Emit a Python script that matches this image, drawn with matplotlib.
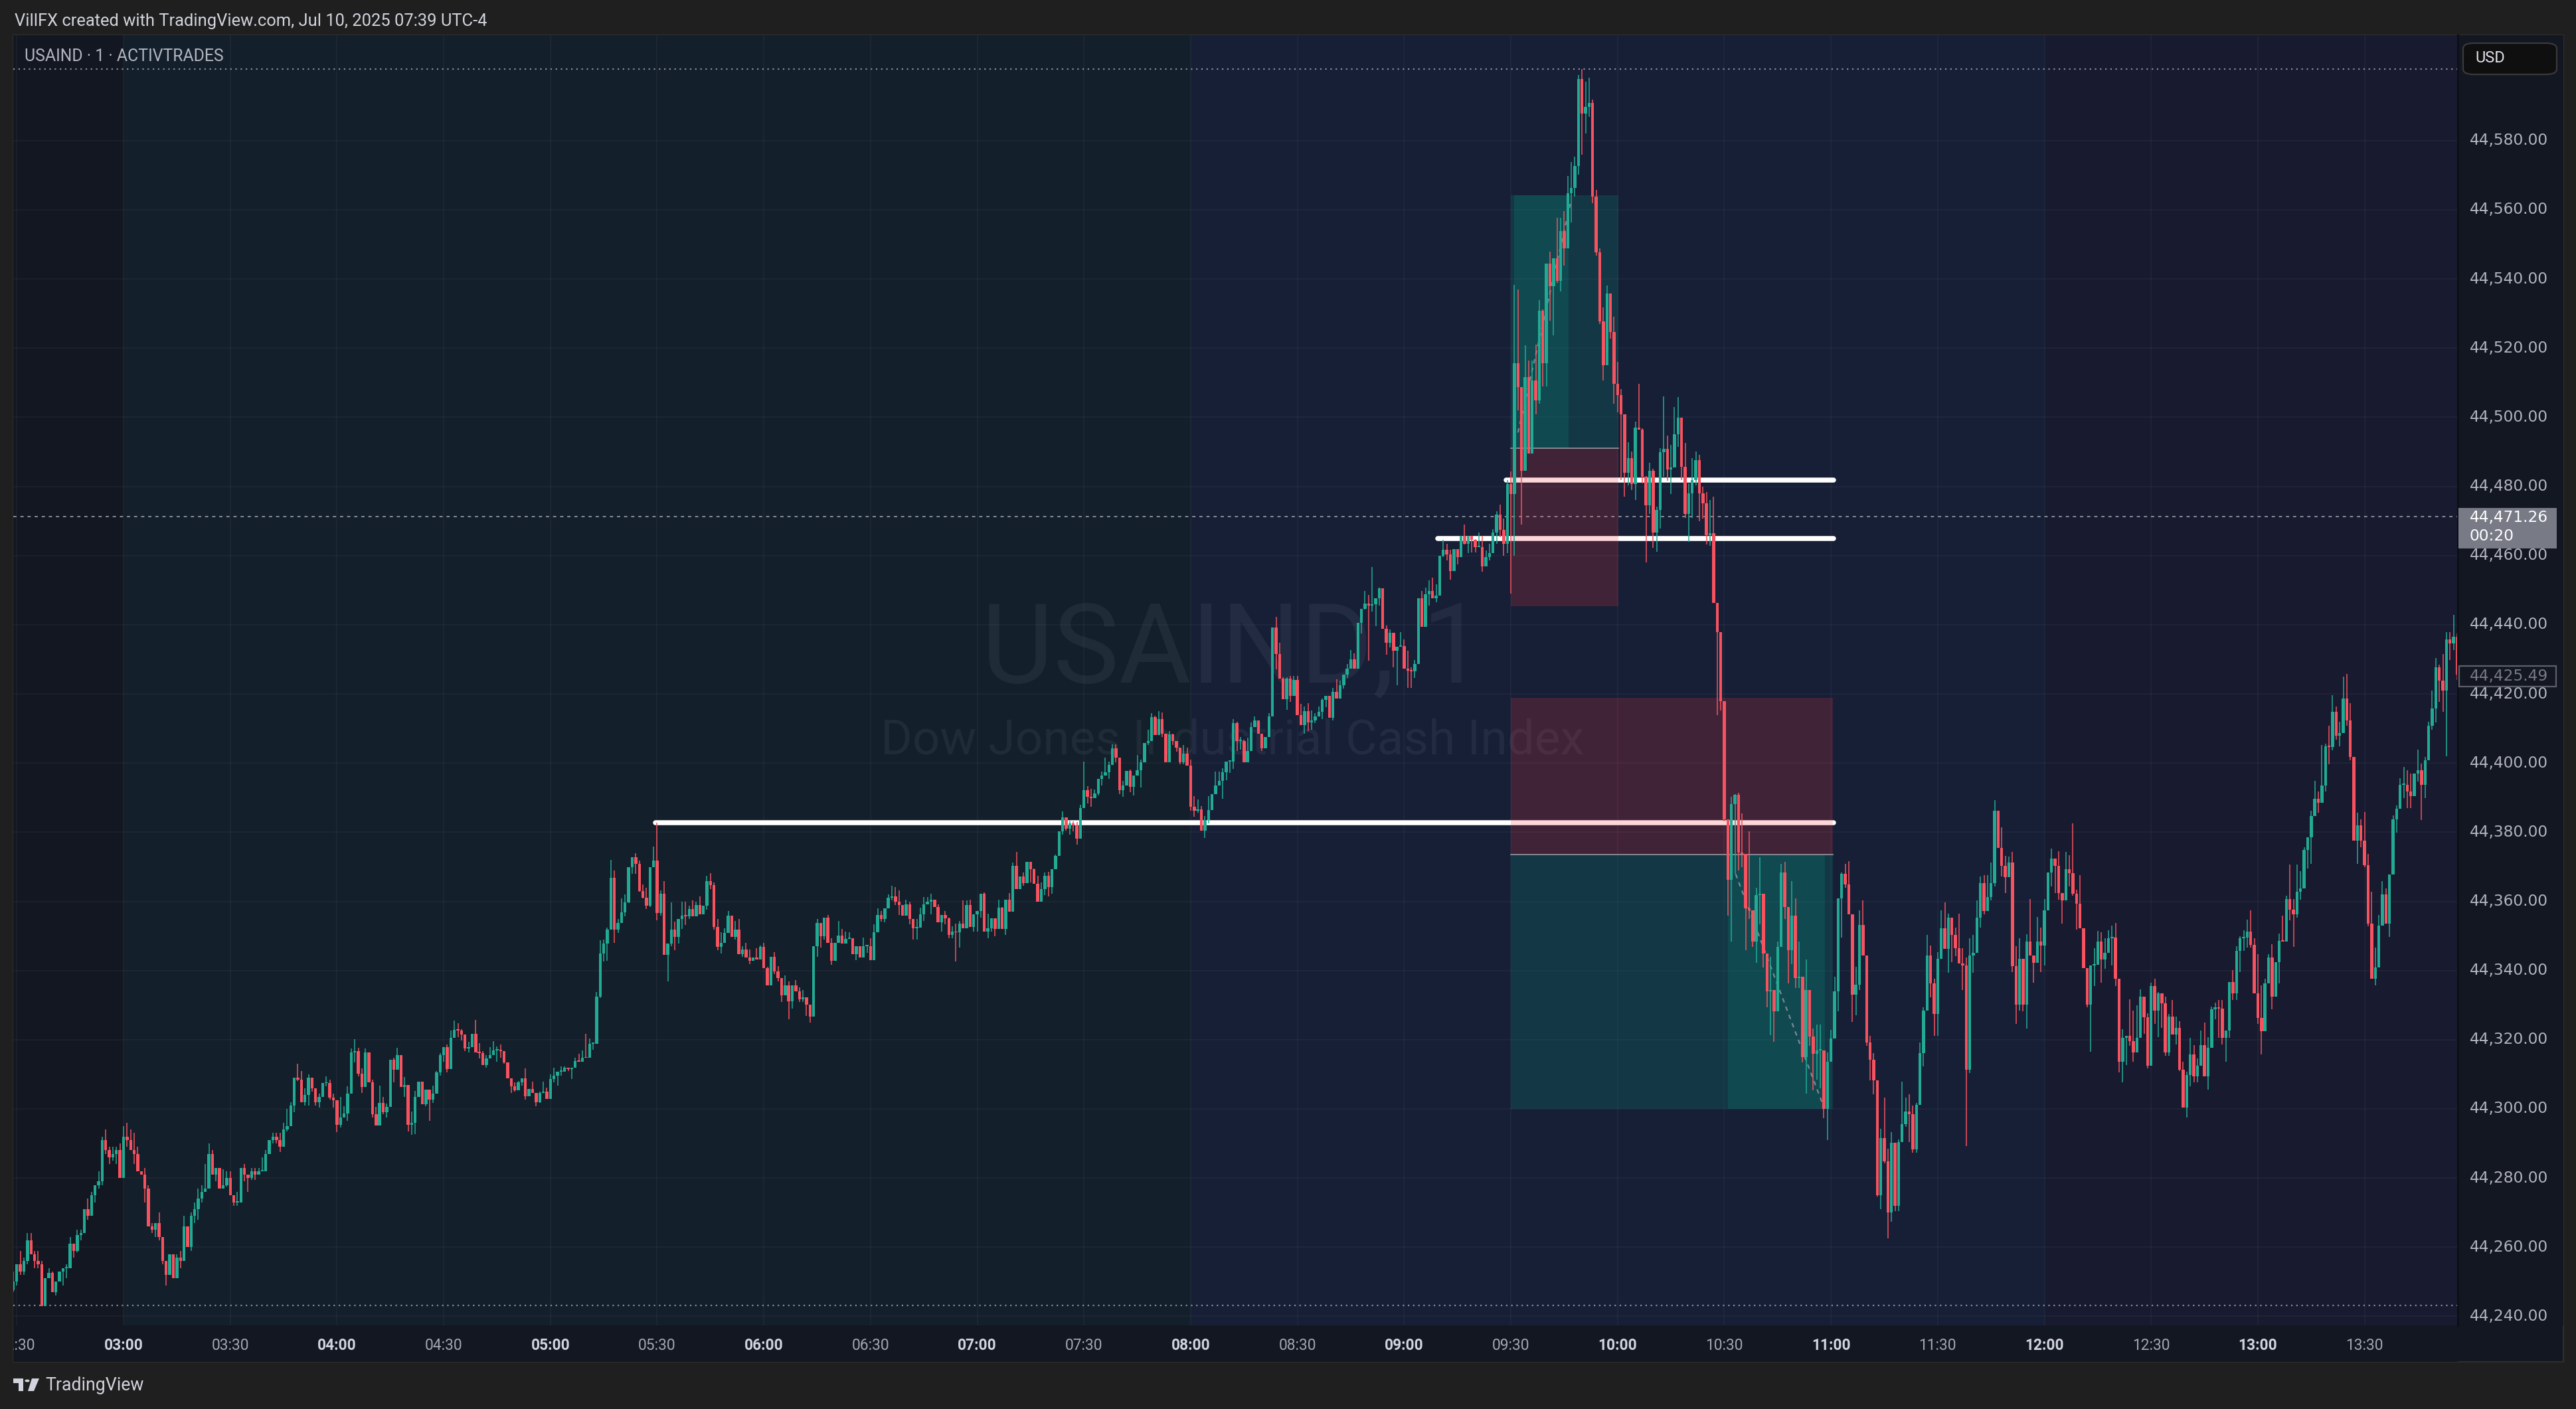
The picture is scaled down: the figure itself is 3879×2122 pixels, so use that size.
import numpy as np
import matplotlib
matplotlib.use("Agg")
import matplotlib.pyplot as plt
from matplotlib.patches import Rectangle, FancyBboxPatch, Polygon, Circle
from matplotlib.lines import Line2D

# USAIND 1-minute candles, x = minutes after 03:00
first_minute = -31
first_open = 44247.5

closes = [
    # 02:29 - 03:54
    44250, 44255, 44253, 44256, 44262, 44258, 44256, 44255, 44243, 44251,
    44252.5, 44247, 44250, 44253, 44254, 44254, 44261, 44259, 44263.5, 44264,
    44271, 44269, 44275, 44278, 44279, 44291, 44288, 44286, 44287, 44288,
    44280, 44292, 44291, 44288, 44287, 44282, 44281, 44277, 44266, 44265,
    44267, 44263, 44256, 44252, 44258, 44251, 44257, 44256, 44266, 44260,
    44269, 44271, 44274, 44276, 44277, 44287, 44281, 44283, 44277, 44278,
    44280, 44275, 44273, 44273, 44283, 44281, 44280, 44282, 44281, 44282,
    44282, 44287, 44291, 44292, 44291, 44289, 44294, 44295, 44301, 44309,
    44308.5, 44302, 44304, 44309, 44306, 44302,
    # 03:55 - 05:20
    44303.5, 44307.4, 44307.4, 44303.2, 44302.4, 44295.4, 44297.5, 44298.7, 44304.4, 44316.4,
    44316.8, 44310.1, 44306.3, 44316.4, 44307.6, 44298.5, 44295.2, 44301.7, 44299.1, 44300.6,
    44314.2, 44311.4, 44315.5, 44306.3, 44307, 44295.4, 44296, 44303.5, 44307.9, 44301.3,
    44305.6, 44302.6, 44304.5, 44310.5, 44315.5, 44317.9, 44311.6, 44320.6, 44322.9, 44322.6,
    44321.5, 44317.5, 44317.9, 44321.7, 44316.4, 44316.2, 44312.6, 44314.5, 44315.6, 44316.9,
    44316.9, 44316.8, 44313.4, 44308.9, 44306.6, 44305.4, 44307.6, 44308.8, 44303.7, 44305.7,
    44304.6, 44302, 44304.6, 44305, 44302.8, 44308.7, 44309.6, 44310.7, 44310.7, 44311.9,
    44311.6, 44312, 44313.8, 44313.7, 44314.8, 44314.7, 44318.8, 44318.8, 44332.5, 44345,
    44347.8, 44351.8, 44366.8, 44351.8, 44353.7, 44356.8,
    # 05:21 - 06:46
    44359.7, 44369.8, 44372.8, 44370.9, 44362.9, 44361.1, 44358.8, 44369.9, 44371.8, 44356.6,
    44362.2, 44344.6, 44347.8, 44351.8, 44349.8, 44354.9, 44355.8, 44355.7, 44357.8, 44355.7,
    44359, 44356.3, 44358.8, 44365.9, 44364.8, 44352.7, 44346.9, 44348, 44350.9, 44355.9,
    44349.8, 44351.8, 44344.8, 44346.1, 44343.8, 44342.9, 44343.8, 44343.2, 44346.9, 44340.8,
    44335.7, 44344, 44339.8, 44337.9, 44332.8, 44335.8, 44331.2, 44335.8, 44333.9, 44331.7,
    44332.3, 44330.1, 44326.7, 44347, 44353.8, 44349.9, 44355.3, 44348, 44342.9, 44348,
    44350.1, 44347.9, 44349.2, 44349.3, 44344.8, 44347, 44343.8, 44347, 44347, 44343.1,
    44351.1, 44356, 44354.9, 44357.9, 44361, 44361.5, 44360, 44359, 44355.9, 44359.1,
    44355, 44352.2, 44352.4, 44356.2, 44359.1, 44360,
    # 06:47 - 08:12
    44360.5, 44358.3, 44354, 44356, 44355.1, 44350.4, 44351.2, 44351, 44353.5, 44352.2,
    44359, 44352.7, 44356.2, 44357.2, 44362.2, 44351.2, 44352.2, 44355.2, 44352, 44358.1,
    44352, 44360.5, 44357.1, 44370.3, 44363.6, 44367.2, 44365.2, 44371.4, 44369.3, 44365,
    44360, 44363.6, 44367.4, 44364.2, 44369.3, 44373.2, 44380.3, 44384.3, 44381.1, 44382.6,
    44381.9, 44378.2, 44386.9, 44392.2, 44390.3, 44389.8, 44391.2, 44395.5, 44396.4, 44397.3,
    44399.4, 44404.2, 44401.5, 44392.1, 44393.5, 44397.8, 44393.2, 44396.4, 44398, 44400.2,
    44405.8, 44406.4, 44413.3, 44408.2, 44412.8, 44408.5, 44400.3, 44408.3, 44406.4, 44404.5,
    44400.3, 44402.8, 44399.2, 44387.3, 44386.3, 44386.6, 44380.5, 44383.5, 44386.4, 44391,
    44393.5, 44394.8, 44397.3, 44400.4, 44400.4, 44411.5,
    # 08:13 - 09:30
    44406.4, 44406.4, 44400.3, 44403.5, 44410.4, 44412.3, 44408.4, 44404.2, 44407.6, 44413.5,
    44439.3, 44431.6, 44424.5, 44418.4, 44424.5, 44419.4, 44424, 44413.8, 44411, 44415,
    44411.7, 44412.3, 44413.5, 44414.9, 44418.3, 44419.4, 44413.1, 44420.6, 44418.6, 44422.5,
    44425.5, 44427.4, 44430, 44427.4, 44440.6, 44444.5, 44446.1, 44445.6, 44446, 44447.6,
    44450.5, 44438.8, 44434.8, 44437.6, 44432.4, 44433.7, 44433.9, 44427.3, 44426.8, 44426.6,
    44428.6, 44447.6, 44439.4, 44448.9, 44449.7, 44447.6, 44448.5, 44460, 44461.6, 44460.4,
    44455.6, 44461.8, 44459.6, 44465.8, 44463.5, 44465.7, 44464.6, 44462.5, 44462.5, 44456.8,
    44459.6, 44460.7, 44466.6, 44471.9, 44467.5, 44463.5, 44480.7, 44477.8,
    # 09:31 - 10:29
    44515.6, 44508.8, 44484.6, 44511.6, 44489.5, 44510.7, 44504.8, 44530.8, 44515.6, 44544.5,
    44537.9, 44545.9, 44539.5, 44553.8, 44548.8, 44564.8, 44566.3, 44572.6, 44597.9, 44587.8,
    44589.7, 44590.9, 44563.9, 44547.7, 44527.7, 44515, 44535.8, 44524.7, 44509.7, 44506.4,
    44500.8, 44484, 44488.1, 44480.7, 44497.1, 44496.5, 44482.8, 44474.5, 44484.6, 44466.6,
    44473.2, 44489.9, 44490.8, 44484.9, 44485.5, 44495, 44499.9, 44485.6, 44472, 44478.1,
    44481.9, 44487.7, 44478.1, 44475.1, 44466, 44466.5, 44446.3, 44437.8, 44417.9,
    # 10:30 - 11:03
    44383.8, 44366.3, 44388.2, 44390.8, 44374.2, 44373.8, 44357.9, 44357.5, 44348.3, 44361.9,
    44362.3, 44344.9, 44333.9, 44334.3, 44328.3, 44346.9, 44368.3, 44358.3, 44345.9, 44355.9,
    44337.9, 44338.3, 44314.9, 44334.3, 44320.9, 44315.9, 44316.9, 44316.9, 44300, 44313.6,
    44320.3, 44333.9, 44360.9, 44367.9,
    # 11:04 - 12:30
    44364.9, 44356.2, 44333.1, 44336, 44353.2, 44344.3, 44319.2, 44314.2, 44308.3, 44275.1,
    44291.5, 44284.8, 44270.1, 44290.2, 44272, 44290.4, 44295.5, 44299.2, 44298.5, 44288.2,
    44301.1, 44316.1, 44328.5, 44344.4, 44336.2, 44327.4, 44343.4, 44352.3, 44346.2, 44355.3,
    44350.3, 44346.5, 44342.1, 44341.5, 44311.3, 44344.3, 44345.2, 44355.3, 44365.3, 44357.2,
    44361.3, 44365.3, 44386.2, 44375.5, 44370.3, 44367.1, 44371.2, 44341.2, 44330.2, 44343.4,
    44330.2, 44348.4, 44344.3, 44342.2, 44348.4, 44347.2, 44357.4, 44368.4, 44372.4, 44370.2,
    44362.5, 44360.2, 44369.4, 44368.2, 44362.2, 44359.3, 44352.3, 44340.8, 44330.2, 44341.5,
    44341.7, 44348.4, 44343.3, 44345.2, 44349.4, 44349.6, 44337.7, 44313.6, 44320.5, 44321.2,
    44319.6, 44316.4, 44320.6, 44332.4, 44326.5, 44312.4, 44335.5,
    # 12:31 - 13:56
    44328.5, 44333.4, 44330.5, 44316.3, 44326.6, 44321.5, 44323.4, 44311.4, 44300.4, 44309.7,
    44315.8, 44309.4, 44312.4, 44318.5, 44309.4, 44317.6, 44328.8, 44329.3, 44329, 44320.5,
    44322.7, 44336.7, 44333.4, 44345.7, 44349.4, 44349.6, 44351.3, 44347.4, 44333.4, 44326.4,
    44322.5, 44336.2, 44343.7, 44332.4, 44342.5, 44348.6, 44348.4, 44360.7, 44357.7, 44356.3,
    44362.8, 44363.8, 44374.9, 44378.6, 44384.7, 44389.6, 44388.6, 44393.5, 44404.8, 44404.6,
    44414.9, 44407.9, 44408.7, 44418.7, 44412.4, 44401.8, 44377.6, 44381.9, 44377.6, 44370.5,
    44353.6, 44337.6, 44340.9, 44353, 44362, 44353.6, 44367.8, 44383.7, 44386.8, 44393.7,
    44393.7, 44391.7, 44390.5, 44396.9, 44397.9, 44393.7, 44400.8, 44410.8, 44415.8, 44427.6,
    44423.9, 44420.9, 44435.8, 44434.6, 44436.6, 44425.5,
]

highs = [
    44253, 44255, 44259, 44257, 44264, 44264, 44259, 44259, 44256, 44251,
    44254, 44253, 44250, 44253, 44254, 44255, 44263, 44261, 44265, 44265,
    44271, 44274, 44276, 44278, 44282, 44292, 44294, 44289, 44289, 44289,
    44290, 44295, 44296, 44294, 44293, 44289, 44282, 44283, 44278, 44267,
    44267, 44270, 44263, 44256, 44258, 44258, 44258, 44259, 44269, 44266,
    44270, 44273, 44277, 44278, 44284, 44290, 44288, 44283, 44283, 44282.5,
    44282, 44282, 44275, 44276, 44283, 44284, 44280, 44283, 44283, 44283,
    44286, 44288, 44291, 44293, 44293, 44293, 44296, 44300, 44302, 44309,
    44313, 44311, 44306, 44310, 44309, 44306,
    44304.4, 44307.4, 44309.5, 44308.4, 44304.5, 44302.4, 44303.5, 44300.7, 44306.6, 44317.5,
    44320.1, 44317.6, 44311.8, 44317.5, 44316.4, 44308.5, 44300.6, 44306.7, 44303.5, 44301.5,
    44314.2, 44314.8, 44317.6, 44315.5, 44309.2, 44307, 44299.3, 44305.1, 44307.9, 44307.9,
    44305.6, 44305.6, 44306.7, 44310.9, 44316.2, 44317.9, 44318.6, 44322.6, 44325.5, 44324.8,
    44323, 44321.5, 44319.4, 44321.7, 44325.7, 44319, 44316.8, 44315.5, 44317.9, 44319.5,
    44318, 44318.6, 44316.8, 44313.4, 44308.9, 44307.7, 44308.1, 44308.8, 44311.7, 44305.7,
    44307.9, 44304.6, 44304.9, 44307.9, 44306.1, 44310, 44311.9, 44310.7, 44312.2, 44312.3,
    44311.9, 44312, 44314.7, 44315.9, 44316.9, 44321.7, 44320.4, 44318.8, 44333.8, 44348.7,
    44348.9, 44352.4, 44372, 44369, 44354.9, 44360.8,
    44362.1, 44369.8, 44372.8, 44373.9, 44371.8, 44364.9, 44363.9, 44369.9, 44375.9, 44382.8,
    44363.2, 44365.9, 44347.8, 44359.7, 44354.1, 44354.9, 44360, 44360, 44358.8, 44360.2,
    44360, 44361.5, 44358.8, 44367.4, 44368.2, 44365.4, 44354.9, 44351.1, 44352.2, 44357.2,
    44355.9, 44354.3, 44354.9, 44347, 44348, 44346.1, 44343.8, 44346.4, 44347.2, 44348,
    44341.1, 44344, 44345.3, 44341.2, 44337.9, 44338.6, 44336.9, 44335.8, 44337.3, 44335.2,
    44334.4, 44332.3, 44330.1, 44347, 44354.9, 44353.8, 44355.3, 44356, 44349.3, 44348,
    44354.3, 44352, 44351.3, 44351.1, 44349.3, 44347, 44347, 44349.5, 44347.4, 44349.3,
    44353.4, 44357.9, 44357.2, 44357.9, 44362.1, 44364.5, 44364.2, 44363.2, 44359, 44360.5,
    44360, 44355, 44355, 44358.1, 44361.3, 44361.3,
    44362.2, 44359.5, 44359.2, 44356, 44357.2, 44355.3, 44352.8, 44353.5, 44354.3, 44360.2,
    44360.3, 44360.5, 44356.2, 44357.2, 44362.2, 44362.6, 44356.5, 44355.2, 44355.2, 44360.5,
    44358.3, 44360.5, 44362.4, 44371.2, 44374.3, 44367.2, 44368.4, 44371.5, 44371.4, 44369.5,
    44367.4, 44365.4, 44368.4, 44368.5, 44369.3, 44373.5, 44380.3, 44386, 44384.3, 44383.4,
    44383.1, 44383, 44387.9, 44400.4, 44393.3, 44392.5, 44392.4, 44395.5, 44397.6, 44401.5,
    44400.5, 44405.4, 44405.4, 44400.5, 44394.9, 44397.8, 44398.1, 44396.4, 44402.4, 44401,
    44405.8, 44409.6, 44414.4, 44413.6, 44415, 44414.6, 44408.5, 44409.3, 44408.5, 44406.4,
    44404.4, 44405.3, 44404.4, 44401, 44390.4, 44389.5, 44387.6, 44384.7, 44390.5, 44391,
    44397.5, 44397.5, 44398.5, 44400.4, 44400.4, 44412.7,
    44412, 44407.6, 44406.7, 44407.3, 44411.7, 44413.5, 44412.3, 44408.4, 44407.6, 44414.4,
    44439.3, 44442.2, 44434.8, 44424.8, 44424.8, 44425.2, 44425.2, 44425.2, 44417.2, 44416.3,
    44417.4, 44415.2, 44414.4, 44416.3, 44418.6, 44419.4, 44419.4, 44421.8, 44424.3, 44423.8,
    44425.5, 44428.6, 44432.6, 44431.7, 44440.6, 44444.5, 44449.7, 44448.6, 44456.7, 44447.6,
    44450.8, 44450.5, 44439.7, 44438.7, 44437.6, 44433.7, 44437.8, 44435.7, 44432.5, 44427.7,
    44429.8, 44447.6, 44449.7, 44450.8, 44452.9, 44453.6, 44451.7, 44460, 44464.6, 44463.5,
    44461.6, 44461.8, 44461.9, 44465.8, 44469, 44465.7, 44465.7, 44464.8, 44466.6, 44465.7,
    44461.4, 44463.5, 44467.6, 44472.8, 44474.8, 44470.8, 44481.9, 44484.3,
    44538.3, 44536.9, 44508.8, 44520.8, 44516.5, 44516.5, 44521, 44533.9, 44531.2, 44544.5,
    44547.9, 44545.9, 44557.7, 44557.7, 44559.6, 44569.8, 44573.8, 44575.3, 44598.9, 44600.7,
    44597.1, 44598.3, 44591.8, 44565.8, 44548.9, 44531.8, 44538.1, 44535.8, 44529, 44516.1,
    44508.1, 44500.8, 44492.8, 44490.1, 44498.7, 44509.7, 44496.9, 44483, 44486.8, 44485.2,
    44474.2, 44491.1, 44506.1, 44494.8, 44492, 44503, 44505.8, 44499.9, 44492.6, 44480.9,
    44488.1, 44490.1, 44489.2, 44480, 44478.3, 44476.1, 44477, 44445.8, 44437.8,
    44417.9, 44383.8, 44390.2, 44391, 44391.4, 44385.4, 44373.8, 44380.2, 44357.5, 44363.9,
    44372.8, 44362.3, 44344.9, 44343.9, 44334.3, 44348.3, 44370.9, 44371.4, 44358.3, 44365.9,
    44360.9, 44348.3, 44338.3, 44343.3, 44334.3, 44323.3, 44324.3, 44324.3, 44316.9, 44316.4,
    44322.9, 44338.3, 44360.9, 44368.3,
    44370.9, 44371.7, 44356.2, 44341.1, 44357.4, 44360.3, 44344.3, 44321.2, 44316.1, 44308.3,
    44294.2, 44303.2, 44288.4, 44293.2, 44290.2, 44291.2, 44307.8, 44303.2, 44304.3, 44300.9,
    44301.8, 44319.2, 44329.4, 44350.3, 44347.2, 44337.7, 44345.3, 44357.4, 44359.8, 44356.5,
    44355.3, 44352.5, 44356.5, 44346.4, 44343.7, 44349.4, 44350.3, 44360.3, 44367.2, 44367.5,
    44367.5, 44371.2, 44389.3, 44386.2, 44381.4, 44373.2, 44373, 44374.3, 44347, 44349.3,
    44343.4, 44350.5, 44360.7, 44344.3, 44355.4, 44352.5, 44360.7, 44368.4, 44375.2, 44372.4,
    44374.6, 44362.5, 44374.3, 44373.4, 44382.5, 44363.4, 44367.5, 44352.3, 44340.8, 44341.5,
    44346.4, 44351.5, 44351, 44349.4, 44351.6, 44353, 44353.7, 44337.7, 44323, 44321.2,
    44331.6, 44328.5, 44329.9, 44334.6, 44332.4, 44327.6, 44336.5,
    44337.6, 44333.7, 44333.4, 44332.4, 44327.5, 44331.5, 44326.7, 44325.4, 44313.6, 44310.7,
    44320.5, 44318.5, 44314.6, 44322.7, 44324.9, 44320.7, 44329.6, 44330.8, 44331.5, 44331.5,
    44322.7, 44336.7, 44340.1, 44347, 44349.9, 44351.6, 44354.8, 44357.5, 44349.4, 44344.7,
    44335.7, 44337.6, 44344.7, 44347.7, 44342.5, 44350.7, 44355.8, 44361.6, 44370.7, 44360.7,
    44370.7, 44368.7, 44375.6, 44378.6, 44386.3, 44394.8, 44391.8, 44405.2, 44405.7, 44410.8,
    44419.6, 44416.3, 44411.9, 44425, 44425.8, 44417.3, 44401.8, 44385.6, 44383.7, 44385.8,
    44373.7, 44362.8, 44346.7, 44356.1, 44365.9, 44363.8, 44367.8, 44384.9, 44387.8, 44395.6,
    44398.9, 44397.9, 44396.9, 44396.9, 44403.8, 44399.9, 44401.8, 44411.9, 44420.9, 44430.4,
    44428.5, 44431.5, 44437.9, 44437.9, 44442.8, 44437.5,
]

lows = [
    44247, 44249, 44252, 44252, 44255, 44258, 44254, 44254, 44243, 44243,
    44251, 44247, 44246, 44250, 44249, 44251, 44254, 44257, 44258.5, 44262,
    44264, 44268, 44270, 44273, 44277, 44278, 44287, 44284, 44285, 44284,
    44280, 44280, 44289, 44288, 44284, 44282, 44281, 44273, 44266, 44264,
    44263, 44262, 44255, 44249, 44252, 44251, 44251, 44254, 44256, 44260,
    44259, 44267, 44268, 44273, 44276, 44277, 44281, 44279, 44277, 44277,
    44277.5, 44275, 44272, 44272, 44273, 44279, 44276, 44279.5, 44279.5, 44281,
    44282, 44282, 44287, 44290, 44290, 44287.5, 44289, 44293.5, 44295, 44299,
    44308, 44302, 44301, 44301, 44305, 44301,
    44300.4, 44303.5, 44306.5, 44302.6, 44300.4, 44293.2, 44294.7, 44297.5, 44296.5, 44304.4,
    44313.4, 44309.4, 44304.6, 44306.3, 44307.6, 44297.5, 44295.2, 44295.2, 44298.5, 44297.5,
    44300.6, 44307.6, 44311.4, 44306.3, 44303.5, 44293.5, 44292.5, 44292.7, 44303.5, 44301.3,
    44300.7, 44296.5, 44301.7, 44304.5, 44309.6, 44313.6, 44310.5, 44311.6, 44320.6, 44320.8,
    44319.7, 44316.8, 44316.4, 44317.9, 44316.4, 44314.5, 44312.6, 44312, 44314.5, 44315.6,
    44313.6, 44314.8, 44313.1, 44308.9, 44304.6, 44305, 44305.4, 44306.8, 44302.6, 44303.7,
    44304.6, 44300.8, 44301.7, 44304.6, 44302.8, 44302.8, 44307.7, 44306.7, 44309.6, 44310.7,
    44310.9, 44308.7, 44312, 44313.7, 44313.7, 44314.7, 44314.7, 44317, 44319.7, 44332,
    44342.6, 44342.8, 44351.8, 44348, 44350.8, 44353.7,
    44355.7, 44359.5, 44367.9, 44367.9, 44362.7, 44360.8, 44357.8, 44358.3, 44369.9, 44354.6,
    44355.9, 44344.6, 44336.9, 44347, 44345.9, 44347.9, 44352, 44353.1, 44354.9, 44355.7,
    44355.7, 44356.3, 44356.3, 44357.6, 44363.6, 44351.8, 44345.9, 44345, 44348, 44350.9,
    44349.8, 44349, 44344.8, 44344, 44343.8, 44341.9, 44342.9, 44343.2, 44343.2, 44340.8,
    44335.7, 44335.7, 44338.9, 44336.9, 44331, 44332.8, 44325.9, 44329, 44333.9, 44331,
    44331, 44326.9, 44324.9, 44326.7, 44344, 44346.7, 44349, 44348, 44341.7, 44342.9,
    44348, 44347.9, 44347.9, 44349.2, 44344.8, 44343.1, 44343.8, 44343.8, 44345.1, 44343.1,
    44343.1, 44351.1, 44354.2, 44354, 44357.9, 44360.2, 44358.9, 44356.1, 44355.9, 44355.9,
    44353.3, 44349, 44349, 44352.4, 44354.3, 44359.1,
    44356.2, 44358.3, 44354, 44351.2, 44353.3, 44349.3, 44349.3, 44342.6, 44346.7, 44352.2,
    44352.2, 44352.7, 44351.2, 44351.2, 44355.3, 44351.2, 44349.3, 44351.2, 44349.9, 44352,
    44352, 44350.3, 44357.1, 44357.1, 44363.6, 44363.6, 44364.5, 44365.2, 44365.4, 44365,
    44360, 44360, 44361.8, 44361.5, 44362.3, 44369.3, 44373.2, 44379.3, 44380.5, 44379.4,
    44380.3, 44376.5, 44378.2, 44386.9, 44388.4, 44387.3, 44389.8, 44390.6, 44393.6, 44396.4,
    44395.4, 44399.4, 44400.2, 44391.1, 44390.3, 44393.5, 44391.6, 44390.6, 44396.4, 44393,
    44400.2, 44405.3, 44406.4, 44408.2, 44408.2, 44407.6, 44400.3, 44400.3, 44405.3, 44403.4,
    44399.6, 44399.6, 44399.2, 44386.3, 44384.4, 44385.6, 44380.5, 44378.4, 44382.5, 44386.4,
    44391, 44393.5, 44389.6, 44395.1, 44397.2, 44398.3,
    44403.5, 44403.9, 44400.3, 44400.3, 44403.5, 44410.4, 44408.4, 44403.5, 44404.2, 44407.6,
    44413.5, 44427.1, 44424.5, 44418.4, 44415.4, 44417.7, 44419.4, 44413.8, 44411, 44408.5,
    44409.2, 44409.7, 44411.5, 44413.5, 44412.8, 44416.1, 44413.1, 44412.4, 44418.6, 44418.6,
    44421.6, 44424.7, 44427.4, 44427.4, 44427.4, 44437.4, 44444.4, 44429.6, 44443.8, 44439.6,
    44445.6, 44438.8, 44431.4, 44433.4, 44427.7, 44422.5, 44433.7, 44427.3, 44421.8, 44421.8,
    44424.7, 44428.9, 44439.4, 44439.4, 44445.6, 44447.6, 44446.6, 44448.5, 44459.6, 44458.6,
    44453, 44455.7, 44457.5, 44459.6, 44463.2, 44460.8, 44460.9, 44460.9, 44462.5, 44455.4,
    44456.8, 44458.6, 44460.7, 44463.5, 44465.3, 44459.9, 44460.8, 44449,
    44459.9, 44502, 44469, 44484.6, 44489.5, 44490.1, 44500.8, 44504, 44508.9, 44508.9,
    44527.9, 44523.8, 44538.9, 44536.3, 44543.8, 44549.5, 44556.3, 44563.9, 44570.1, 44575.9,
    44582, 44586.9, 44562, 44546.8, 44526.9, 44510.6, 44515, 44522.8, 44504, 44501.5,
    44481.8, 44477, 44480.3, 44478.9, 44476.1, 44496.5, 44480.9, 44458.1, 44472.1, 44462.2,
    44461.1, 44467.9, 44482.8, 44481.6, 44477.9, 44485.5, 44491.4, 44481.9, 44470.9, 44464,
    44470.9, 44480.3, 44469.9, 44470.8, 44463.2, 44462.9, 44446.3, 44413.8, 44415.2,
    44383.2, 44355.9, 44348.3, 44367.9, 44368.9, 44369.9, 44345.9, 44354.9, 44346.9, 44342.3,
    44353.3, 44340.9, 44329.3, 44321.3, 44319.3, 44328.3, 44346.9, 44355, 44336.3, 44341.9,
    44335, 44335, 44313.5, 44304.4, 44318.3, 44305.4, 44308.4, 44306, 44297.4, 44291,
    44313.6, 44320.3, 44328.3, 44349.5,
    44364, 44356.2, 44325.2, 44327.1, 44334.3, 44344.3, 44318.3, 44308.3, 44304.3, 44274.7,
    44271, 44284.2, 44262.6, 44267.3, 44270.4, 44270.4, 44290.4, 44294.9, 44290.4, 44287.3,
    44287.3, 44301.1, 44312.2, 44328.5, 44332.2, 44321.2, 44321.2, 44343.4, 44346.2, 44339.3,
    44342.4, 44344.2, 44342.1, 44334.4, 44289.3, 44310.4, 44339.3, 44345.2, 44352.5, 44356.3,
    44357.2, 44360.3, 44364.4, 44375.5, 44367.3, 44362.4, 44367.1, 44339.5, 44324.6, 44328.5,
    44328.3, 44323.3, 44344.3, 44336.4, 44342.2, 44339.5, 44341.5, 44357.4, 44364.4, 44362.5,
    44360.5, 44353.6, 44360.2, 44364.4, 44361.6, 44351.9, 44352.3, 44340.8, 44329.4, 44316.6,
    44335.5, 44341.7, 44336.5, 44340.6, 44345.2, 44341.5, 44335.6, 44310.5, 44307.6, 44312.6,
    44318.3, 44313.6, 44316.4, 44320.6, 44321.7, 44311.7, 44312.4,
    44324.6, 44320.7, 44323.4, 44315.4, 44315.4, 44321.5, 44318.7, 44310.9, 44300.4, 44297.5,
    44306.6, 44307.6, 44307.6, 44312.4, 44309.4, 44305.6, 44317.6, 44325.9, 44320.5, 44318.7,
    44313.6, 44320.5, 44331.5, 44331.5, 44339.6, 44345.7, 44346.7, 44346.7, 44333.4, 44324.6,
    44315.8, 44322.5, 44336.2, 44328.8, 44332.4, 44336.2, 44348.4, 44348.4, 44354.6, 44346.8,
    44355.3, 44360.5, 44363.8, 44369.5, 44370.8, 44384.7, 44385.6, 44388.6, 44391.7, 44399.7,
    44403.6, 44406.7, 44404.8, 44408.7, 44410.8, 44400.8, 44377.6, 44370.8, 44375.7, 44369.8,
    44352.8, 44337.6, 44335.7, 44340.9, 44353, 44353.6, 44349.7, 44369.8, 44379.8, 44386.8,
    44389.8, 44387, 44387, 44390.5, 44394.7, 44383.5, 44389.8, 44400.8, 44409.7, 44411.8,
    44417.8, 44414.8, 44402, 44429.9, 44432.7, 44424,
]

price_ticks = list(range(44240, 44581, 20))
time_ticks = list(range(-30, 631, 30))

# session shading (minute where each colour starts / ends)
session_starts = [-40, 0, 300, 540]
session_ends = [0, 300, 540, 700]

# horizontal levels drawn by hand: (start minute, price)
levels = [(149.6, 44382.8), (369.5, 44464.9), (388.6, 44481.9)]
levels_end = 480.8

# long position tool
long_pos = dict(x0=390.0, x1=420.2, entry=44491.0, target=44564.2, stop=44445.4, hit0=391.0, hit1=406.2)
# short position tool
short_pos = dict(x0=390.0, x1=480.5, entry=44373.5, target=44300.0, stop=44418.9, hit0=451.0, hit1=478.3)

day_high, day_low = 44600.7, 44243.2
live_price = 44471.26
last_close = 44425.49

# ---------------------------------------------------------------------------
plt.rcParams["font.family"] = ["Roboto", "DejaVu Sans"]

W, H, DPI = 3880, 2122, 200
GREEN, RED = "#22ab94", "#f7525f"
TEAL_RGB, RED_RGB = (8 / 255, 153 / 255, 129 / 255), (242 / 255, 54 / 255, 69 / 255)

fig = plt.figure(figsize=(W / DPI, H / DPI), dpi=DPI)
fig.patch.set_facecolor("#1f1f1f")


def frame(x0, y0, x1, y1):
    return [x0 / W, 1 - y1 / H, (x1 - x0) / W, (y1 - y0) / H]


def px_rect(x0, y0, x1, y1, **kw):
    r = Rectangle((x0 / W, 1 - y1 / H), (x1 - x0) / W, (y1 - y0) / H,
                  transform=fig.transFigure, **kw)
    fig.add_artist(r)
    return r


def px_text(x, y, s, **kw):
    return fig.text(x / W, 1 - y / H, s, **kw)


px_rect(20, 53, 3860, 2051, fc="#131722", ec="#2e2e2e", lw=0.8, zorder=-1)

xlim = (-30.99, 656.2)
ylim = (44237.4, 44610.5)

ax = fig.add_axes(frame(20, 53, 3701, 1996))
ax.set_xlim(*xlim)
ax.set_ylim(*ylim)
ax.set_axis_off()

for s, e, col in zip(session_starts, session_ends, ["#131722", "#131f2b", "#161f36", "#181a2f"]):
    ax.axvspan(s, e, color=col, lw=0, zorder=0)

for p in price_ticks:
    ax.axhline(p, color="white", alpha=0.035, lw=0.8, zorder=1)
for t in time_ticks:
    ax.axvline(t, color="white", alpha=0.035, lw=0.8, zorder=1)

# watermark
ax.text(0.4988, 0.522, "USAIND, 1", transform=ax.transAxes, ha="center", va="center",
        fontsize=60, color="white", alpha=0.055, zorder=1)
ax.text(0.4988, 0.453, "Dow Jones Industrial Cash Index", transform=ax.transAxes,
        ha="center", va="center", fontsize=26.3, color="white", alpha=0.055, zorder=1)

# high / low / live price dotted lines
for p in (day_high, day_low):
    ax.axhline(p, color="#8a8d96", lw=0.8, ls=(0, (1, 2.5)), zorder=2)
ax.axhline(live_price, color="#8a8d96", lw=0.7, ls=(0, (2.5, 3)), zorder=2)

# white levels
for x0, p in levels:
    ax.plot([x0, levels_end], [p, p], color="white", lw=2.7, solid_capstyle="round", zorder=3)

# position tools
for pos, top_col, bot_col in ((long_pos, TEAL_RGB, RED_RGB), (short_pos, RED_RGB, TEAL_RGB)):
    w = pos["x1"] - pos["x0"]
    hi_p, lo_p = max(pos["target"], pos["stop"]), min(pos["target"], pos["stop"])
    ax.add_patch(Rectangle((pos["x0"], pos["entry"]), w, hi_p - pos["entry"],
                           fc=top_col + (0.2,), ec="none", zorder=4))
    ax.add_patch(Rectangle((pos["x0"], lo_p), w, pos["entry"] - lo_p,
                           fc=bot_col + (0.2,), ec="none", zorder=4))
    t0, t1 = sorted((pos["entry"], pos["target"]))
    ax.add_patch(Rectangle((pos["hit0"], t0), pos["hit1"] - pos["hit0"], t1 - t0,
                           fc=TEAL_RGB + (0.2,), ec="none", zorder=4))
    ax.plot([pos["x0"], pos["x1"]], [pos["entry"], pos["entry"]], color="#9598a1", lw=0.6, zorder=4)

ax.plot([392, 407], [44495.6, 44563.0], color="#9598a1", lw=0.8, ls=(0, (3, 3)), alpha=0.8, zorder=4)
ax.plot([453.2, 477.8], [44367.9, 44301.0], color="#9598a1", lw=0.8, ls=(0, (3, 3)), alpha=0.8, zorder=4)

# candles
n = min(len(closes), len(highs), len(lows))
c = np.array(closes[:n], dtype=float)
o = np.r_[first_open, c[:-1]]
h = np.maximum(np.array(highs[:n], dtype=float), np.maximum(o, c))
l = np.minimum(np.array(lows[:n], dtype=float), np.minimum(o, c))
x = np.arange(first_minute, first_minute + n)
cols = np.where(c >= o, GREEN, RED)
ax.vlines(x, l, h, colors=cols, lw=0.55, zorder=5)
ax.bar(x, np.maximum(np.abs(c - o), 0.35), width=0.82, bottom=np.minimum(o, c),
       color=cols, lw=0, zorder=6)

# time axis
tax = fig.add_axes(frame(20, 1996, 3701, 2051))
tax.set_xlim(*xlim)
tax.set_ylim(0, 1)
tax.set_facecolor("#131722")
tax.set_xticks([])
tax.set_yticks([])
for sp in tax.spines.values():
    sp.set_visible(False)
for t in time_ticks:
    hh, mm = 3 + t // 60, t % 60
    full = mm == 0
    tax.text(t, 0.45, f"{hh:02d}:{mm:02d}", ha="center", va="center", fontsize=8.2,
             fontweight="bold" if full else "normal",
             color="#d1d4dc" if full else "#a3a6af", clip_on=True)

# price axis
pax = fig.add_axes(frame(3701, 53, 3860, 1996))
pax.set_xlim(0, 1)
pax.set_ylim(*ylim)
pax.set_facecolor("#131722")
pax.set_xticks([])
pax.set_yticks([])
for sp in pax.spines.values():
    sp.set_visible(False)
for p in price_ticks:
    pax.text(0.484, p, f"{p:,.2f}", ha="center", va="center", fontsize=8.4,
             color="#b2b5be", family="DejaVu Sans")

fig.add_artist(Line2D([3701 / W, 3701 / W], [1 - 1996 / H, 1 - 53 / H],
                      transform=fig.transFigure, color="#0d1017", lw=1.2))

# USD box
fig.add_artist(FancyBboxPatch((3709 / W, 1 - 112 / H), 141 / W, 47 / H,
                              boxstyle="round,pad=0,rounding_size=0.004",
                              transform=fig.transFigure, fc="#0f0f0f", ec="#3a3a3a", lw=0.8))
px_text(3727, 88, "USD", ha="left", va="center", fontsize=8.5, color="#e0e3eb")

# live price label
px_rect(3702, 765, 3850, 826, fc="#787b86", ec="none", zorder=2)
px_text(3719, 780, f"{live_price:,.2f}", ha="left", va="center", fontsize=8.4,
        color="white", family="DejaVu Sans", zorder=3)
px_text(3719, 807, "00:20", ha="left", va="center", fontsize=8.4,
        color="white", family="DejaVu Sans", zorder=3)

# last close label
px_rect(3703, 1003, 3849, 1034, fc="#131722", ec="#5d606b", lw=0.8, zorder=2)
px_text(3719, 1019, f"{last_close:,.2f}", ha="left", va="center", fontsize=8.4,
        color="#787b86", family="DejaVu Sans", zorder=3)

# header / captions
px_text(22, 32, "VillFX created with TradingView.com, Jul 10, 2025 07:39 UTC-4",
        ha="left", va="center", fontsize=9.2, color="#d1d4dc")
px_text(37, 85, "USAIND · 1 · ACTIVTRADES", ha="left", va="center", fontsize=8.9, color="#b2b5be")

# TradingView logo
logo = "#d1d4dc"
fig.add_artist(Polygon([(20 / W, 1 - 2076 / H), (35 / W, 1 - 2076 / H), (35 / W, 1 - 2095 / H),
                        (28 / W, 1 - 2095 / H), (28 / W, 1 - 2083 / H), (20 / W, 1 - 2083 / H)],
                       closed=True, transform=fig.transFigure, fc=logo, ec="none"))
fig.add_artist(Circle((41 / W, 1 - 2079.5 / H), 3.6 / W, transform=fig.transFigure, fc=logo, ec="none"))
fig.add_artist(Polygon([(48 / W, 1 - 2076 / H), (59 / W, 1 - 2076 / H), (51 / W, 1 - 2095 / H),
                        (42 / W, 1 - 2095 / H)],
                       closed=True, transform=fig.transFigure, fc=logo, ec="none"))
px_text(68, 2087, "TradingView", ha="left", va="center", fontsize=9.6, color=logo)

fig.savefig("out.png", dpi=DPI, facecolor=fig.get_facecolor())
